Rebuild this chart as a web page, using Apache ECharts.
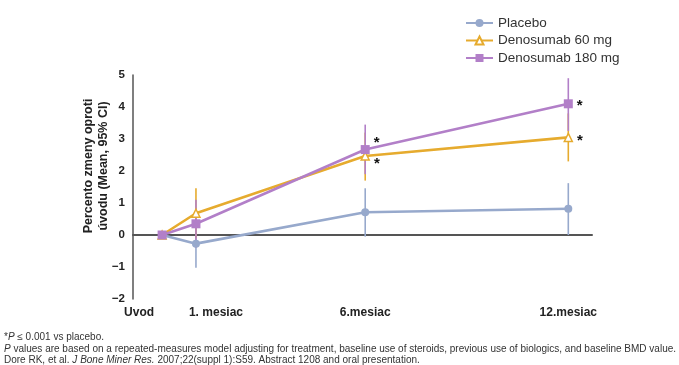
<!DOCTYPE html>
<html>
<head>
<meta charset="utf-8">
<script src="https://cdn.jsdelivr.net/npm/echarts@6/dist/echarts.min.js"></script>
<style>
  html, body { margin: 0; padding: 0; background: #fff; }
  #chart { width: 679px; height: 365px; }
</style>
</head>
<body>
<div id="chart"></div>
<script>
// Time points (months from baseline) and their axis labels
const months = [0, 1, 6, 12];
const tickLabels = ['Uvod', '1. mesiac', '6.mesiac', '12.mesiac'];
const seriesNames = ['Placebo', 'Denosumab 60 mg', 'Denosumab 180 mg'];

// Mean percent change from baseline with 95% CI
const placeboMean = [0, -0.27, 0.71, 0.82];
const placeboLow  = [0, -1.02, -0.05, 0.0];
const placeboHigh = [0, 0.45, 1.46, 1.62];

const den60Mean = [0, 0.68, 2.47, 3.05];
const den60Low  = [0, -0.10, 1.70, 2.30];
const den60High = [0, 1.46, 3.20, 3.80];

const den180Mean = [0, 0.35, 2.67, 4.10];
const den180Low  = [0, -0.40, 1.90, 3.25];
const den180High = [0, 1.10, 3.45, 4.90];

// Significance markers (P <= 0.001 vs placebo)
const den60Stars  = ['', '', '*', '*'];
const den180Stars = ['', '', '*', '*'];

const yTicks = [-2, -1, 0, 1, 2, 3, 4, 5];

const colors = { placebo: '#97a9cc', den60: '#e6ab2e', den180: '#b27fc8' };

const chart = echarts.init(document.getElementById('chart'), null, { renderer: 'canvas' });

function errorBars(name, color, low, high) {
  const data = months.map((m, i) => [m, low[i], high[i]]).filter(d => d[1] !== d[2]);
  return {
    type: 'custom',
    name: name + ' CI',
    xAxisIndex: 0,
    yAxisIndex: 0,
    z: 2,
    silent: true,
    data: data,
    renderItem: function (params, api) {
      const lo = api.coord([api.value(0), api.value(1)]);
      const hi = api.coord([api.value(0), api.value(2)]);
      return {
        type: 'line',
        shape: { x1: lo[0], y1: lo[1], x2: hi[0], y2: hi[1] },
        style: { stroke: color, lineWidth: 1.6 }
      };
    }
  };
}

function starLabel(text, dy) {
  return {
    show: text !== '',
    formatter: text,
    position: 'right',
    distance: 4,
    offset: [0, dy],
    color: '#111',
    fontSize: 15,
    fontWeight: 'bold',
    fontFamily: 'Liberation Sans, Arial, sans-serif'
  };
}

function lineSeries(name, color, mean, symbol, symbolSize, hollow, stars, shifts) {
  return {
    type: 'line',
    name: name,
    xAxisIndex: 0,
    yAxisIndex: 0,
    z: 3,
    data: months.map((m, i) => {
      const item = { value: [m, mean[i]] };
      if (stars) item.label = starLabel(stars[i], shifts ? shifts[i] : 0);
      return item;
    }),
    symbol: symbol,
    symbolSize: symbolSize,
    showAllSymbol: true,
    lineStyle: { color: color, width: 2.6 },
    itemStyle: hollow
      ? { color: '#fff', borderColor: color, borderWidth: 1.5 }
      : { color: color, borderColor: color, borderWidth: 0 },
    emphasis: { disabled: true },
    animation: false
  };
}

const tickFont = { fontSize: 12, fontWeight: 'bold', color: '#222', fontFamily: 'Liberation Sans, Arial, sans-serif' };
const tickLabelRich = {
  a: Object.assign({}, tickFont, { padding: [0, 46, 0, 0] }),
  b: Object.assign({}, tickFont, { padding: [0, 0, 0, 40] }),
  c: Object.assign({}, tickFont)
};

const footFont = 'Liberation Sans, Arial, sans-serif';
const footRich = { i: { fontStyle: 'italic', fontSize: 10, fill: '#333', fontFamily: footFont } };

const option = {
  backgroundColor: '#ffffff',
  animation: false,
  textStyle: { fontFamily: 'Liberation Sans, Arial, sans-serif' },
  grid: { left: 133, right: 87, top: 75, bottom: 66, containLabel: false, outerBoundsMode: 'none' },
  legend: {
    data: seriesNames,
    orient: 'vertical',
    left: 460,
    top: 11,
    itemWidth: 27,
    itemHeight: 10,
    itemGap: 3.5,
    textStyle: { fontSize: 13.5, color: '#333' },
    selectedMode: false
  },
  xAxis: [
    {
      type: 'value',
      min: -0.86,
      max: 12.7,
      position: 'top',
      axisLine: { show: true, onZero: true, lineStyle: { color: '#555', width: 2 } },
      axisTick: { show: false },
      axisLabel: { show: false },
      splitLine: { show: false }
    },
    {
      type: 'value',
      min: -0.86,
      max: 12.7,
      position: 'bottom',
      axisLine: { show: false, onZero: false },
      axisTick: { show: false },
      splitLine: { show: false },
      axisLabel: {
        show: true,
        customValues: months,
        margin: 8,
        showMinLabel: true,
        showMaxLabel: true,
        rich: tickLabelRich,
        formatter: function (v) {
          const i = months.indexOf(v);
          if (i < 0) return '';
          const key = i === 0 ? 'a' : (i === 1 ? 'b' : 'c');
          return '{' + key + '|' + tickLabels[i] + '}';
        }
      }
    }
  ],
  yAxis: {
    type: 'value',
    min: yTicks[0],
    max: yTicks[yTicks.length - 1],
    interval: 1,
    axisLine: { show: true, onZero: false, lineStyle: { color: '#555', width: 1.5 } },
    axisTick: { show: false },
    splitLine: { show: false },
    axisLabel: {
      margin: 8,
      fontSize: 11.5,
      fontWeight: 'bold',
      color: '#222',
      formatter: v => (v < 0 ? '\u2212' + Math.abs(v) : String(v))
    }
  },
  graphic: [
    {
      type: 'text',
      x: 89, y: 166,
      rotation: Math.PI / 2,
      style: {
        text: 'Percento zmeny oproti',
        fontSize: 12.5, fontWeight: 'bold', fill: '#222',
        align: 'center', verticalAlign: 'middle',
        fontFamily: 'Liberation Sans, Arial, sans-serif'
      }
    },
    {
      type: 'text',
      x: 104, y: 166,
      rotation: Math.PI / 2,
      style: {
        text: 'úvodu (Mean, 95% CI)',
        fontSize: 12.5, fontWeight: 'bold', fill: '#222',
        align: 'center', verticalAlign: 'middle',
        fontFamily: 'Liberation Sans, Arial, sans-serif'
      }
    },
    {
      type: 'text',
      left: 4, top: 332,
      style: {
        text: '*{i|P} ≤ 0.001 vs placebo.',
        fontSize: 10, fill: '#333', fontFamily: footFont, rich: footRich
      }
    },
    {
      type: 'text',
      left: 4, top: 344,
      style: {
        text: '{i|P} values are based on a repeated-measures model adjusting for treatment, baseline use of steroids, previous use of biologics, and baseline BMD value.',
        fontSize: 10, fill: '#333', fontFamily: footFont, rich: footRich
      }
    },
    {
      type: 'text',
      left: 4, top: 355,
      style: {
        text: 'Dore RK, et al. {i|J Bone Miner Res.} 2007;22(suppl 1):S59. Abstract 1208 and oral presentation.',
        fontSize: 10, fill: '#333', fontFamily: footFont, rich: footRich
      }
    }
  ],
  series: [
    errorBars('Placebo', colors.placebo, placeboLow, placeboHigh),
    errorBars('Denosumab 60 mg', colors.den60, den60Low, den60High),
    errorBars('Denosumab 180 mg', colors.den180, den180Low, den180High),
    lineSeries('Placebo', colors.placebo, placeboMean, 'circle', 8, false, null, null),
    lineSeries('Denosumab 60 mg', colors.den60, den60Mean, 'triangle', 8, true, den60Stars, [0, 0, 8, 3]),
    lineSeries('Denosumab 180 mg', colors.den180, den180Mean, 'rect', 9, false, den180Stars, [0, 0, -7, 2])
  ]
};

chart.setOption(option);
</script>
</body>
</html>
